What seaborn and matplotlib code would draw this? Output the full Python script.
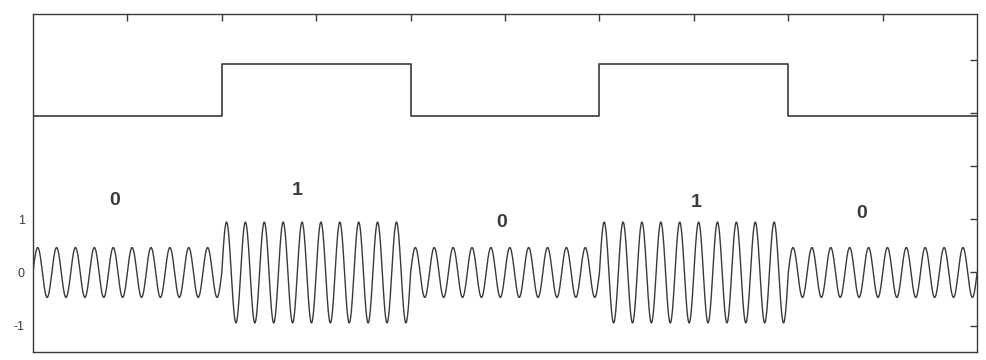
import numpy as np
import pandas as pd
import matplotlib
matplotlib.use("Agg")
import matplotlib.pyplot as plt
import seaborn as sns

bits = [0, 1, 0, 1, 0]
bit_labels = ["0", "1", "0", "1", "0"]
label_x = [0.43, 1.40, 2.48, 3.51, 4.39]
label_y = [1.36, 1.55, 0.94, 1.32, 1.11]
square_low = 2.95
square_high = 3.92
amp_zero = 0.47
amp_one = 0.95
cycles_per_bit = 10
samples_per_bit = 600

y_ticks = [-1, 0, 1, 2, 3, 4]
y_ticklabels = ["-1", "0", "1", "", "", ""]
x_ticks = [0.5, 1, 1.5, 2, 2.5, 3, 3.5, 4, 4.5]

sns.set_style("white")
plt.rcParams["font.family"] = ["Liberation Sans", "DejaVu Sans"]

# square wave (digital data)
sq = pd.DataFrame({
    "t": list(range(len(bits) + 1)),
    "v": [square_high if b else square_low for b in bits] + [square_high if bits[-1] else square_low],
})

# ASK signal: carrier scaled by the bit amplitude
t = np.linspace(0, len(bits), len(bits) * samples_per_bit + 1)
idx = np.minimum(t.astype(int), len(bits) - 1)
amp = np.where(np.array(bits)[idx] == 1, amp_one, amp_zero)
ask = pd.DataFrame({"t": t, "v": amp * np.sin(2 * np.pi * cycles_per_bit * t)})

fig = plt.figure(figsize=(9.87, 3.6), dpi=100)
ax = fig.add_axes([0.0334, 0.022, 0.9566, 0.939])

sns.lineplot(data=sq, x="t", y="v", ax=ax, color="#3a3a3a", linewidth=1.2,
             drawstyle="steps-post", estimator=None)
sns.lineplot(data=ask, x="t", y="v", ax=ax, color="#3a3a3a", linewidth=1.0,
             estimator=None)

for lab, lx, ly in zip(bit_labels, label_x, label_y):
    ax.text(lx, ly, lab, ha="center", va="center", fontsize=14,
            fontweight="bold", color="#3a3a3a")

ax.set_xlim(0, len(bits))
ax.set_ylim(-1.5, 4.87)
ax.set_xticks(x_ticks)
ax.set_xticklabels([])
ax.set_yticks(y_ticks)
ax.set_yticklabels(y_ticklabels)
ax.set_xlabel("")
ax.set_ylabel("")
ax.tick_params(direction="in", length=5, width=1, colors="#3a3a3a",
               top=True, right=True, labelsize=9, pad=6)
for s in ax.spines.values():
    s.set_color("#3a3a3a")
    s.set_linewidth(1.0)

fig.savefig("out.png", dpi=100)
